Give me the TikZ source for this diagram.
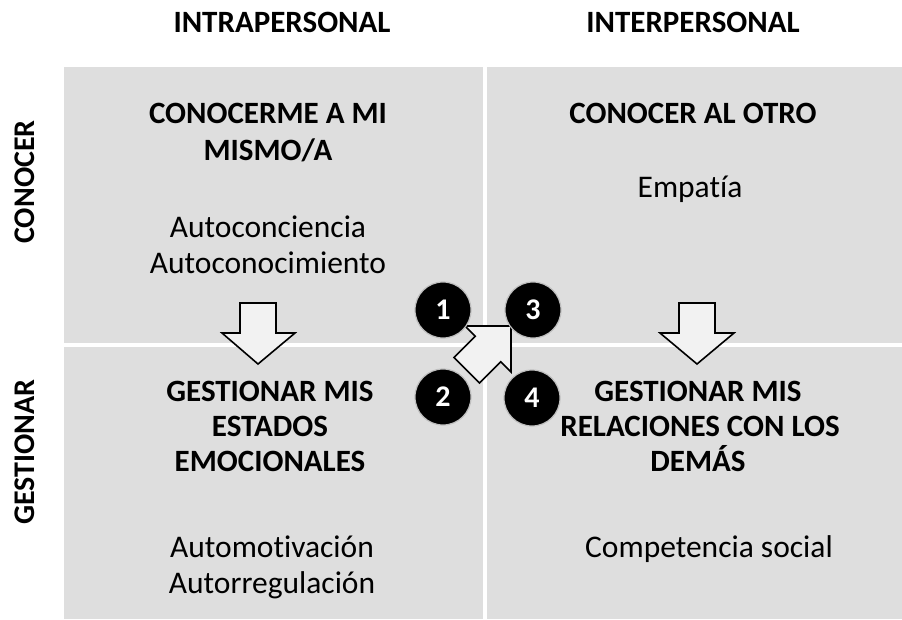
\documentclass[tikz,border=0pt]{standalone}
\usepackage{fontspec}
\setmainfont{Carlito}[Ligatures=NoCommon]
\definecolor{quad}{HTML}{DEDEDE}
\definecolor{arrowfill}{HTML}{F2F2F2}
\begin{document}
\begin{tikzpicture}[x=1pt,y=-1pt,
  quadbox/.style={fill=quad,draw=none},
  head/.style={font=\bfseries\fontsize{31}{36}\selectfont,anchor=base,inner sep=0pt},
  body/.style={font=\fontsize{31.5}{36}\selectfont,anchor=base,inner sep=0pt},
  side/.style={font=\bfseries\fontsize{30}{36}\selectfont,rotate=90,inner sep=0pt},
  numdot/.style={circle,fill=black,draw=gray!50,line width=1.2pt,minimum size=56pt,inner sep=0pt,
    text=white,font=\bfseries\fontsize{30}{32}\selectfont},
  bigarrow/.style={fill=arrowfill,draw=black,line width=1.6pt,line join=miter}]
\useasboundingbox (0,0) rectangle (902,619);
\fill[white] (0,0) rectangle (902,619);
% quadrants
\fill[quadbox] (64,67) rectangle (483,343);
\fill[quadbox] (487,67) rectangle (902,343);
\fill[quadbox] (64,347) rectangle (483,619);
\fill[quadbox] (487,347) rectangle (902,619);
% column / row titles
\node[head] (intra) at (282,32) {INTRAPERSONAL};
\node[head] (inter) at (693,32) {INTERPERSONAL};
\node[side] (conocer) at (25,182) {CONOCER};
\node[side] (gestionar) at (25,452) {GESTIONAR};
% top-left
\node[head] (tl1) at (268,123) {CONOCERME A MI};
\node[head] (tl2) at (268,160) {MISMO/A};
\node[body] (tl3) at (268,237) {Autoconciencia};
\node[body] (tl4) at (268,273) {Autoconocimiento};
% top-right
\node[head] (tr1) at (693,123) {CONOCER AL OTRO};
\node[body] (tr2) at (690,197) {Empatía};
% bottom-left
\node[head] (bl1) at (270,401) {GESTIONAR MIS};
\node[head] (bl2) at (270,436) {ESTADOS};
\node[head] (bl3) at (270,471) {EMOCIONALES};
\node[body] (bl4) at (272,557) {Automotivación};
\node[body] (bl5) at (272,593) {Autorregulación};
% bottom-right
\node[head] (br1) at (698,401) {GESTIONAR MIS};
\node[head] (br2) at (700,436) {RELACIONES CON LOS};
\node[head] (br3) at (698,471) {DEMÁS};
\node[body] (br4) at (709,557) {Competencia social};
% down arrows
\draw[bigarrow] (240,303) -- (276,303) -- (276,333) -- (295,333) -- (258,364) -- (222,333) -- (240,333) -- cycle;
\draw[bigarrow] (679,303) -- (715,303) -- (715,333) -- (734,333) -- (697,364) -- (660,333) -- (679,333) -- cycle;
% diagonal arrow
\draw[bigarrow] (511,326) -- (465,326) -- (475.3,336.3) -- (454.1,357.5) -- (479.5,382.9) -- (500.7,361.7) -- (511,372) -- cycle;
% numbered dots
\node[numdot] (n1) at (443,310) {1};
\node[numdot] (n3) at (533,310) {3};
\node[numdot] (n2) at (443,397) {2};
\node[numdot] (n4) at (532,398) {4};
\end{tikzpicture}
\end{document}
